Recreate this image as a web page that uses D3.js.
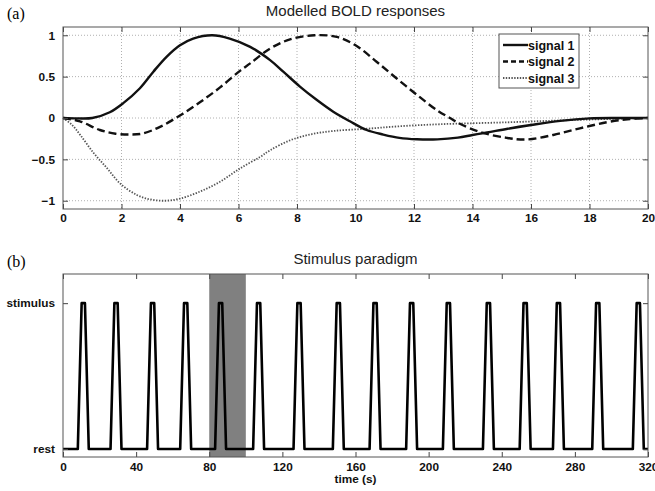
<!DOCTYPE html>
<html>
<head>
<meta charset="utf-8">
<script src="https://cdn.jsdelivr.net/npm/d3@7"></script>
<style>
  body { margin: 0; background: #fff; }
  svg { display: block; }
  .tick text { font-family: Arial, "Liberation Sans", sans-serif; font-weight: bold; }
</style>
</head>
<body>
<div id="chart"></div>
<script>
// signal 1 (solid)
const s1T = [0, 0.5, 1.0, 1.6, 2.06, 2.63, 3.09, 3.54, 4.0, 4.45, 5.1, 5.7, 6.4, 7.08, 7.53, 8.1, 8.67, 9.24, 9.81, 10.38, 10.95, 11.5, 12.1, 12.8, 13.5, 14.0, 14.5, 15.2, 16.0, 17.0, 18.0, 19.0, 20.0];
const s1V = [0, -0.005, 0.0, 0.07, 0.18, 0.36, 0.56, 0.74, 0.88, 0.96, 1.0, 0.96, 0.86, 0.70, 0.56, 0.38, 0.22, 0.076, -0.04, -0.145, -0.2, -0.24, -0.257, -0.258, -0.237, -0.205, -0.175, -0.13, -0.085, -0.035, -0.005, 0, 0];
// signal 2 (dashed)
const s2T = [0, 0.58, 1.26, 1.8, 2.3, 2.7, 3.3, 4.0, 4.68, 5.37, 6.05, 6.4, 7.08, 7.76, 8.6, 9.36, 10.04, 10.72, 11.4, 12.1, 12.8, 13.23, 13.57, 14.26, 15.17, 15.85, 16.76, 17.67, 18.6, 19.3, 20.0];
const s2V = [0, -0.04, -0.145, -0.19, -0.2, -0.19, -0.11, 0.03, 0.19, 0.37, 0.57, 0.66, 0.84, 0.95, 1.0, 0.98, 0.87, 0.68, 0.48, 0.28, 0.09, 0.0, -0.07, -0.17, -0.24, -0.26, -0.205, -0.125, -0.05, -0.015, 0];
// signal 3 (dotted)
const s3T = [0, 0.3, 0.6, 1.04, 1.49, 1.95, 2.52, 3.0, 3.5, 4.0, 4.68, 5.37, 6.05, 6.74, 7.08, 7.76, 8.44, 9.24, 10.38, 11.5, 12.9, 15.2, 17.45, 20.0];
const s3V = [0, -0.08, -0.21, -0.42, -0.6, -0.79, -0.93, -0.985, -1.0, -0.975, -0.89, -0.77, -0.61, -0.47, -0.39, -0.27, -0.2, -0.157, -0.13, -0.1, -0.075, -0.052, -0.024, 0];

const boldTicksX = [0, 2, 4, 6, 8, 10, 12, 14, 16, 18, 20];
const boldTicksY = [-1, -0.5, 0, 0.5, 1];
const legendLabels = ['signal 1', 'signal 2', 'signal 3'];

// stimulus paradigm: peak centres (s) and trapezoid shape of one stimulus
const peakCentres = [11.1, 29, 49, 67.1, 86.2, 107, 129.1, 150.6, 170.7, 190.7, 210.8, 232.7, 252.8, 271, 292.5, 314.7];
const shapeOffsets = [-3, -0.9, 0.9, 3];
const shapeLevels = [0, 1, 1, 0];
const shadedWindow = [80, 100];
const stimTicksX = [0, 40, 80, 120, 160, 200, 240, 280, 320];
const stimLevels = [0, 1];
const stimLabels = ['rest', 'stimulus'];

const W = 655, H = 491;
const font = 'Arial, "Liberation Sans", sans-serif';

const svg = d3.select('#chart').append('svg')
  .attr('width', W)
  .attr('height', H);

svg.append('rect').attr('width', W).attr('height', H).attr('fill', '#fff');

// ---- panel (a) ----
const a = { left: 63, right: 648, top: 27, bottom: 209 };

const xa = d3.scaleLinear().domain([0, 20]).range([a.left, a.right]);
const ya = d3.scaleLinear().domain([-1.1, 1.1]).range([a.bottom, a.top]);

// grid
const grid = svg.append('g').attr('stroke', '#b0b0b0').attr('stroke-width', 1).attr('stroke-dasharray', '1,2');
grid.selectAll('.gx').data(boldTicksX.slice(1, -1)).enter().append('line')
  .attr('x1', d => xa(d)).attr('x2', d => xa(d))
  .attr('y1', a.top).attr('y2', a.bottom);
grid.selectAll('.gy').data(boldTicksY).enter().append('line')
  .attr('x1', a.left).attr('x2', a.right)
  .attr('y1', d => ya(d)).attr('y2', d => ya(d));

function drawAxes(g, x, y, box, xt, yt, yfmt, xpad) {
  g.append('g')
    .attr('transform', `translate(0, ${box.bottom})`)
    .call(d3.axisBottom(x).tickValues(xt).tickSizeInner(-5).tickSizeOuter(0).tickPadding(xpad))
    .call(s => s.select('.domain').remove());
  g.append('g')
    .attr('transform', `translate(0, ${box.top})`)
    .call(d3.axisTop(x).tickValues(xt).tickSizeInner(-5).tickSizeOuter(0).tickFormat(''))
    .call(s => s.select('.domain').remove());
  g.append('g')
    .attr('transform', `translate(${box.left}, 0)`)
    .call(d3.axisLeft(y).tickValues(yt).tickSizeInner(-5).tickSizeOuter(0).tickPadding(8).tickFormat(yfmt))
    .call(s => s.select('.domain').remove());
  g.append('g')
    .attr('transform', `translate(${box.right}, 0)`)
    .call(d3.axisRight(y).tickValues(yt).tickSizeInner(-5).tickSizeOuter(0).tickFormat(''))
    .call(s => s.select('.domain').remove());
  g.selectAll('.tick line').attr('stroke', '#444');
  g.selectAll('.tick text').attr('font-size', 11.8).attr('fill', '#111');
  g.append('rect')
    .attr('x', box.left).attr('y', box.top)
    .attr('width', box.right - box.left).attr('height', box.bottom - box.top)
    .attr('fill', 'none').attr('stroke', '#555').attr('stroke-width', 1);
}

const lineA = d3.line().x(d => xa(d[0])).y(d => ya(d[1])).curve(d3.curveCatmullRom.alpha(0.5));
const series = [
  { t: s3T, v: s3V, color: '#555', width: 1.8, dash: '1.4,1.5', legDash: '1.4,1.4' },
  { t: s2T, v: s2V, color: '#111', width: 2.4, dash: '8,4', legDash: '5,3' },
  { t: s1T, v: s1V, color: '#111', width: 2.4, dash: null, legDash: null }
];
series.forEach(s => {
  svg.append('path')
    .datum(s.t.map((t, i) => [t, s.v[i]]))
    .attr('d', lineA)
    .attr('fill', 'none')
    .attr('stroke', s.color)
    .attr('stroke-width', s.width)
    .attr('stroke-dasharray', s.dash);
});

drawAxes(svg.append('g'), xa, ya, a, boldTicksX, boldTicksY, d3.format('~g'), 5);

// legend
const leg = svg.append('g');
leg.append('rect')
  .attr('x', 499).attr('y', 34).attr('width', 80).attr('height', 54)
  .attr('fill', '#fff').attr('stroke', '#555').attr('stroke-width', 1);
const legendSeries = [series[2], series[1], series[0]];
legendLabels.forEach((lab, i) => {
  const yy = 45 + i * 16.5;
  const s = legendSeries[i];
  leg.append('line')
    .attr('x1', 503).attr('x2', 528).attr('y1', yy).attr('y2', yy)
    .attr('stroke', s.color).attr('stroke-width', s.width)
    .attr('stroke-dasharray', s.legDash);
  leg.append('text')
    .attr('x', 528).attr('y', yy).attr('dy', '0.36em')
    .attr('font-family', font).attr('font-weight', 'bold').attr('font-size', 12.5)
    .attr('fill', '#111')
    .text(lab);
});

svg.append('text')
  .attr('x', (a.left + a.right) / 2).attr('y', 16)
  .attr('text-anchor', 'middle')
  .attr('font-family', font).attr('font-size', 15).attr('fill', '#222')
  .text('Modelled BOLD responses');

svg.append('text')
  .attr('x', 7).attr('y', 19)
  .attr('font-family', '"Liberation Serif", "Times New Roman", serif').attr('font-size', 16)
  .text('(a)');

// ---- panel (b) ----
const b = { left: 63, right: 648, top: 274, bottom: 457 };
const xb = d3.scaleLinear().domain([0, 320]).range([b.left, b.right]);
const yb = d3.scaleLinear().domain([-0.055, 1.2]).range([b.bottom, b.top]);

svg.append('rect')
  .attr('x', xb(shadedWindow[0])).attr('y', b.top)
  .attr('width', xb(shadedWindow[1]) - xb(shadedWindow[0]))
  .attr('height', b.bottom - b.top)
  .attr('fill', '#808080');

const stimPts = [[0, 0]];
peakCentres.forEach(c => {
  shapeOffsets.forEach((o, i) => stimPts.push([c + o, shapeLevels[i]]));
});
stimPts.push([320, 0]);

svg.append('path')
  .datum(stimPts)
  .attr('d', d3.line().x(d => xb(d[0])).y(d => yb(d[1])))
  .attr('fill', 'none')
  .attr('stroke', '#000')
  .attr('stroke-width', 2.6)
  .attr('stroke-linejoin', 'round');

drawAxes(svg.append('g'), xb, yb, b, stimTicksX, stimLevels, d => stimLabels[d], 6);

svg.append('text')
  .attr('x', (b.left + b.right) / 2).attr('y', 264)
  .attr('text-anchor', 'middle')
  .attr('font-family', font).attr('font-size', 15).attr('fill', '#222')
  .text('Stimulus paradigm');

svg.append('text')
  .attr('x', 7).attr('y', 267)
  .attr('font-family', '"Liberation Serif", "Times New Roman", serif').attr('font-size', 16)
  .text('(b)');

svg.append('text')
  .attr('x', (b.left + b.right) / 2).attr('y', 483)
  .attr('text-anchor', 'middle')
  .attr('font-family', font).attr('font-weight', 'bold').attr('font-size', 11.8)
  .attr('fill', '#111')
  .text('time (s)');
</script>
</body>
</html>
